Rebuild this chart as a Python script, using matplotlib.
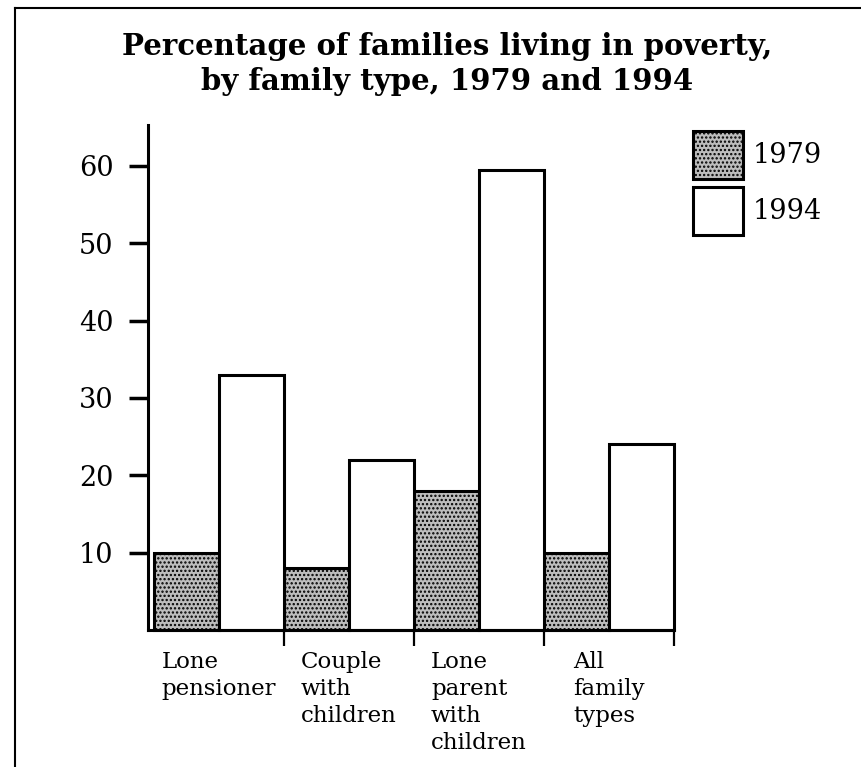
"""Bar chart: percentage of families living in poverty, 1979 vs 1994."""
import matplotlib
matplotlib.use("Agg")
import matplotlib.pyplot as plt
from matplotlib.lines import Line2D

categories = ["Lone\npensioner", "Couple\nwith\nchildren",
              "Lone\nparent\nwith\nchildren", "All\nfamily\ntypes"]
years = ["1979", "1994"]
pct_1979 = [10, 8, 18, 10]
pct_1994 = [33, 22, 59.5, 24]
yticks = [10, 20, 30, 40, 50, 60]

SERIF = "DejaVu Serif"
plt.rcParams["font.family"] = SERIF
plt.rcParams["hatch.color"] = "#222222"
plt.rcParams["hatch.linewidth"] = 1.1

W, H = 861, 767
fig = plt.figure(figsize=(W / 100, H / 100), dpi=100)
ax = fig.add_axes([148 / W, 1 - 630 / H, (674 - 148) / W, (630 - 125) / H])

x = list(range(len(categories)))
b1 = ax.bar([i - 0.25 for i in x], pct_1979, width=0.5, facecolor="#bdbdbd",
            hatch="....", edgecolor="black", linewidth=2.2, label=years[0])
b2 = ax.bar([i + 0.25 for i in x], pct_1994, width=0.5, facecolor="white",
            edgecolor="black", linewidth=2.2, label=years[1])
for r in list(b1) + list(b2):
    r.set_clip_on(False)

ax.set_xlim(-0.546, 3.5)
ax.set_ylim(0, 65.3)
for s in ("top", "right"):
    ax.spines[s].set_visible(False)
for s in ("left", "bottom"):
    ax.spines[s].set_linewidth(2.2)

ax.set_yticks(yticks)
ax.set_yticklabels([str(t) for t in yticks])
ax.tick_params(axis="y", length=14, width=2.5, pad=11, labelsize=19.5)

# boundary ticks between groups, labels centred on groups
ax.set_xticks([i + 0.5 for i in x])
ax.set_xticklabels([])
ax.tick_params(axis="x", which="major", length=11.5, width=1.6)
ax.set_xticks(x, minor=True)
ax.set_xticklabels(categories, minor=True, multialignment="left",
                   fontsize=16.5, linespacing=1.3)
ax.tick_params(axis="x", which="minor", length=0, pad=15)

fig.legend(loc="upper left", bbox_to_anchor=(693 / W, 1 - 131 / H),
           bbox_transform=fig.transFigure, frameon=False, fontsize=19.5,
           handlelength=1.85, handleheight=2.36, handletextpad=0.37,
           labelspacing=0.28, borderpad=0, borderaxespad=0)

fig.text(447 / W, 1 - 32 / H,
         "Percentage of families living in poverty,\nby family type, 1979 and 1994",
         ha="center", va="top", fontsize=21, fontweight="bold",
         linespacing=1.28)

# scanned page frame (left and top edges)
fig.add_artist(Line2D([15 / W, 15 / W], [0, 1 - 8 / H], color="black",
                      linewidth=1.5, transform=fig.transFigure))
fig.add_artist(Line2D([15 / W, 1], [1 - 8 / H, 1 - 8 / H], color="black",
                      linewidth=1.5, transform=fig.transFigure))

fig.savefig("out.png", dpi=100)
